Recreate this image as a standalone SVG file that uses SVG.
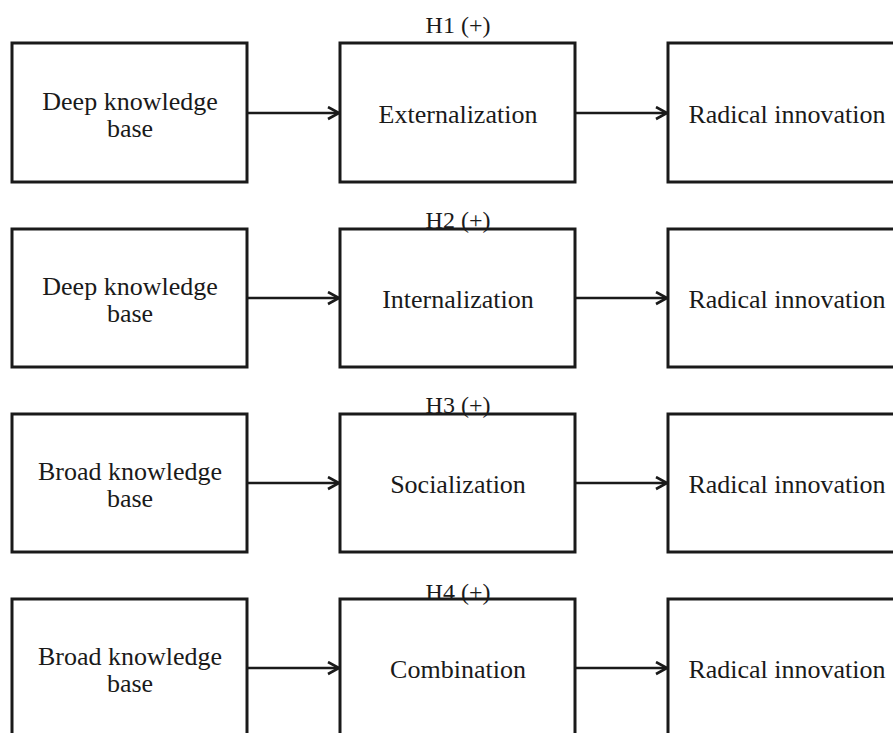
<svg xmlns="http://www.w3.org/2000/svg" width="893" height="733" viewBox="0 0 893 733">
<defs>
<marker id="arr" markerUnits="userSpaceOnUse" markerWidth="16" markerHeight="16" refX="12" refY="7" orient="auto">
<path d="M1,1 L12,7 L1,13" fill="none" stroke="#1a1a1a" stroke-width="2.6"/>
</marker>
<style>
.box{fill:#fff;stroke:#1a1a1a;stroke-width:3}
.t{font-family:"Liberation Serif","Times New Roman",serif;font-size:26px;fill:#1a1a1a;text-anchor:middle}
.h{font-family:"Liberation Serif","Times New Roman",serif;font-size:24px;fill:#1a1a1a;text-anchor:middle}
.c{stroke:#1a1a1a;stroke-width:2.4;fill:none;marker-end:url(#arr)}
</style>
</defs>
<rect width="893" height="733" fill="#fff"/>
<g id="connectors">
<line class="c" x1="247" y1="113" x2="339" y2="113"/>
<line class="c" x1="576" y1="113" x2="667" y2="113"/>
<line class="c" x1="247" y1="298" x2="339" y2="298"/>
<line class="c" x1="576" y1="298" x2="667" y2="298"/>
<line class="c" x1="247" y1="483" x2="339" y2="483"/>
<line class="c" x1="576" y1="483" x2="667" y2="483"/>
<line class="c" x1="247" y1="668" x2="339" y2="668"/>
<line class="c" x1="576" y1="668" x2="667" y2="668"/>
</g>
<g id="deep1"><rect class="box" x="12" y="43" width="235" height="139"/><text class="t" x="130" y="110">Deep knowledge</text><text class="t" x="130" y="137">base</text></g>
<g id="externalization"><rect class="box" x="340" y="43" width="235" height="139"/><text class="t" x="458" y="123">Externalization</text></g>
<g id="radical1"><rect class="box" x="668" y="43" width="240" height="139"/><text class="t" x="787" y="123">Radical innovation</text></g>
<g id="h1"><text class="h" x="458" y="33">H1 (+)</text></g>

<g id="deep2"><rect class="box" x="12" y="229" width="235" height="138"/><text class="t" x="130" y="295">Deep knowledge</text><text class="t" x="130" y="322">base</text></g>
<g id="internalization"><rect class="box" x="340" y="229" width="235" height="138"/><text class="t" x="458" y="308">Internalization</text></g>
<g id="radical2"><rect class="box" x="668" y="229" width="240" height="138"/><text class="t" x="787" y="308">Radical innovation</text></g>
<g id="h2"><text class="h" x="458" y="228">H2 (+)</text></g>

<g id="broad3"><rect class="box" x="12" y="414" width="235" height="138"/><text class="t" x="130" y="480">Broad knowledge</text><text class="t" x="130" y="507">base</text></g>
<g id="socialization"><rect class="box" x="340" y="414" width="235" height="138"/><text class="t" x="458" y="493">Socialization</text></g>
<g id="radical3"><rect class="box" x="668" y="414" width="240" height="138"/><text class="t" x="787" y="493">Radical innovation</text></g>
<g id="h3"><text class="h" x="458" y="413">H3 (+)</text></g>

<g id="broad4"><rect class="box" x="12" y="599" width="235" height="150"/><text class="t" x="130" y="665">Broad knowledge</text><text class="t" x="130" y="692">base</text></g>
<g id="combination"><rect class="box" x="340" y="599" width="235" height="150"/><text class="t" x="458" y="678">Combination</text></g>
<g id="radical4"><rect class="box" x="668" y="599" width="240" height="150"/><text class="t" x="787" y="678">Radical innovation</text></g>
<g id="h4"><text class="h" x="458" y="600">H4 (+)</text></g>
</svg>
